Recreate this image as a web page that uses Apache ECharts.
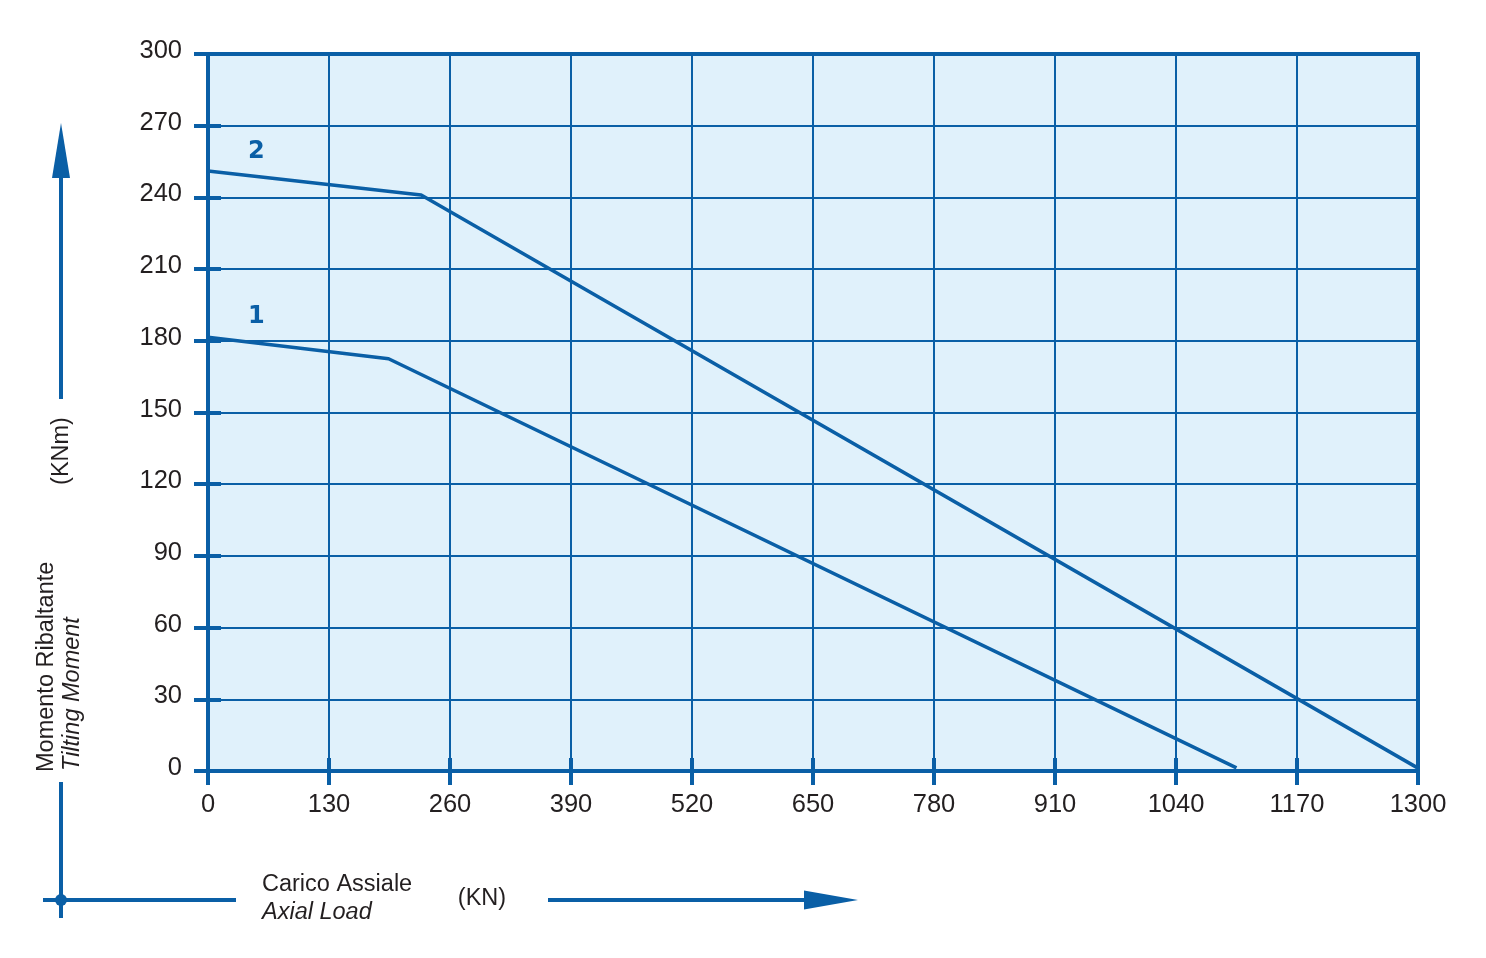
<!DOCTYPE html>
<html><head><meta charset="utf-8">
<script src="https://cdn.jsdelivr.net/npm/echarts@6/dist/echarts.min.js"></script>
<style>html,body{margin:0;padding:0;background:#fff}#c{width:1486px;height:958px}</style>
</head><body><div id="c"></div>
<script>
// Data
const xTicks = [0,130,260,390,520,650,780,910,1040,1170,1300];
const yTicks = [0,30,60,90,120,150,180,210,240,270,300];
const curve1X = [0, 194, 1105];
const curve1Y = [181.5, 172.5, 1.3];
const curve2X = [0, 229, 1300];
const curve2Y = [251, 241, 1.2];
const curveNames = ['1','2'];
const curveLabelX = [52, 52];
const curveLabelY = [190, 259];

const BLUE = '#0a5fa6';
const TXT = '#231f20';
const FONT = 'Liberation Sans, Arial, sans-serif';

const pairs = (xs, ys) => xs.map((x,i)=>[x, ys[i]]);

const chart = echarts.init(document.getElementById('c'));
const xBase = {type:'value', min:xTicks[0], max:xTicks[xTicks.length-1], interval:xTicks[1]-xTicks[0]};
const yBase = {type:'value', min:yTicks[0], max:yTicks[yTicks.length-1], interval:yTicks[1]-yTicks[0]};
const plain = v => String(v);

chart.setOption({
  animation:false,
  backgroundColor:'#ffffff',
  grid:{left:208, right:68, top:54, bottom:187, show:true, backgroundColor:'#e0f1fb', borderColor:BLUE, borderWidth:4},
  xAxis:[
    Object.assign({}, xBase, {position:'bottom',
      axisLine:{show:true, onZero:false, lineStyle:{color:BLUE, width:4}},
      axisTick:{show:true, inside:false, length:14, lineStyle:{color:BLUE, width:4}},
      axisLabel:{show:true, margin:21, color:TXT, fontSize:25.5, fontFamily:FONT, formatter:plain},
      splitLine:{show:true, lineStyle:{color:BLUE, width:2}}}),
    Object.assign({}, xBase, {position:'bottom',
      axisLine:{show:false, onZero:false},
      axisTick:{show:true, inside:true, length:13, lineStyle:{color:BLUE, width:4}},
      axisLabel:{show:false}, splitLine:{show:false}})
  ],
  yAxis:[
    Object.assign({}, yBase, {position:'left',
      axisLine:{show:true, onZero:false, lineStyle:{color:BLUE, width:4}},
      axisTick:{show:true, inside:false, length:14, lineStyle:{color:BLUE, width:4}},
      axisLabel:{show:true, margin:26, formatter: v => '{t|' + v + '}',
        rich:{t:{color:TXT, fontSize:25.5, fontFamily:FONT, padding:[0,0,6,0]}}},
      splitLine:{show:true, lineStyle:{color:BLUE, width:2}}}),
    Object.assign({}, yBase, {position:'left',
      axisLine:{show:false, onZero:false},
      axisTick:{show:true, inside:true, length:13, lineStyle:{color:BLUE, width:4}},
      axisLabel:{show:false}, splitLine:{show:false}})
  ],
  series:[
    {name:'1', type:'line', data:pairs(curve1X, curve1Y), symbol:'none', lineStyle:{color:BLUE, width:3.5}, z:5},
    {name:'2', type:'line', data:pairs(curve2X, curve2Y), symbol:'none', lineStyle:{color:BLUE, width:3.5}, z:5},
    {name:'labels', type:'scatter', symbolSize:1, z:6, silent:true,
      itemStyle:{color:'rgba(0,0,0,0)', opacity:1},
      data: curveNames.map((n,i)=>({name:n, value:[curveLabelX[i], curveLabelY[i]]})),
      label:{show:true, position:'inside', formatter:'{b}', color:BLUE, opacity:1, fontSize:24, fontWeight:900, fontFamily:'DejaVu Sans, sans-serif'}}
  ],
  graphic:[
    // vertical up arrow
    {type:'line', shape:{x1:61,y1:399,x2:61,y2:170}, style:{stroke:BLUE, lineWidth:4}},
    {type:'polygon', shape:{points:[[61,123],[52,178],[70,178]]}, style:{fill:BLUE}},
    {type:'text', x:62, y:451, rotation:Math.PI/2, style:{text:'(KNm)', fill:TXT, font:'23.5px '+FONT, textAlign:'center', textVerticalAlign:'middle'}},
    {type:'text', x:47, y:772, rotation:Math.PI/2, style:{text:'Momento Ribaltante', fill:TXT, font:'23.5px '+FONT, textAlign:'left', textVerticalAlign:'middle'}},
    {type:'text', x:72, y:771, rotation:Math.PI/2, style:{text:'Tilting Moment', fill:TXT, font:'italic 23.5px '+FONT, textAlign:'left', textVerticalAlign:'middle'}},
    // bottom-left origin cross
    {type:'line', shape:{x1:61,y1:782,x2:61,y2:918}, style:{stroke:BLUE, lineWidth:4}},
    {type:'line', shape:{x1:43,y1:900,x2:236,y2:900}, style:{stroke:BLUE, lineWidth:4}},
    {type:'circle', shape:{cx:61, cy:900, r:6}, style:{fill:BLUE}},
    {type:'text', x:262, y:885, style:{text:'Carico Assiale', fill:TXT, font:'23.5px '+FONT, textAlign:'left', textVerticalAlign:'middle'}},
    {type:'text', x:262, y:912, style:{text:'Axial Load', fill:TXT, font:'italic 23.5px '+FONT, textAlign:'left', textVerticalAlign:'middle'}},
    {type:'text', x:482, y:899, style:{text:'(KN)', fill:TXT, font:'23.5px '+FONT, textAlign:'center', textVerticalAlign:'middle'}},
    // right arrow
    {type:'line', shape:{x1:548,y1:900,x2:810,y2:900}, style:{stroke:BLUE, lineWidth:4}},
    {type:'polygon', shape:{points:[[858,900],[804,890.5],[804,909.5]]}, style:{fill:BLUE}}
  ]
});
</script></body></html>
